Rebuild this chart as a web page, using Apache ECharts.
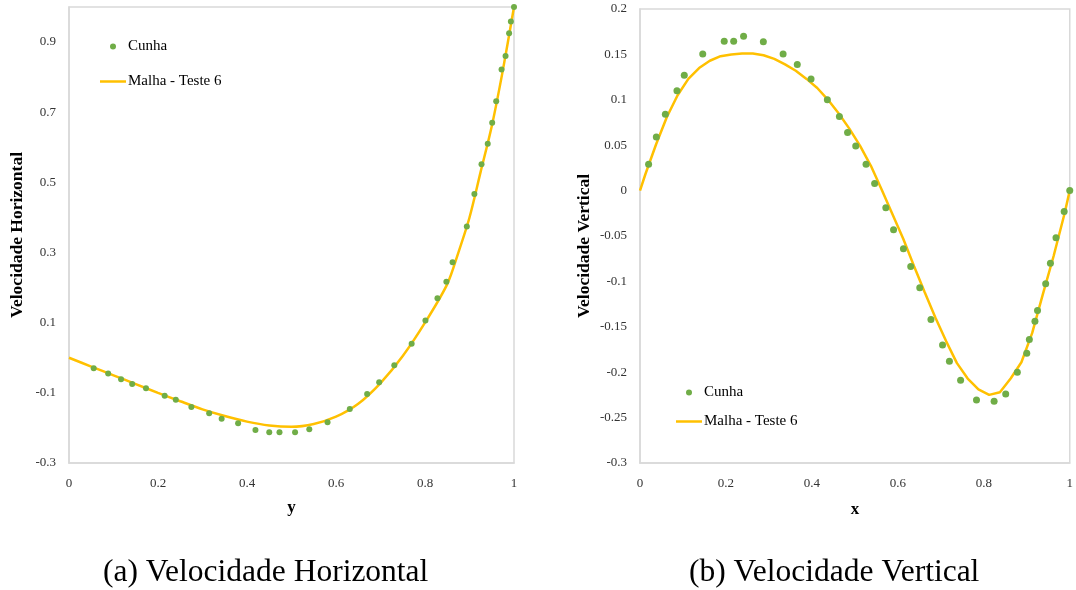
<!DOCTYPE html>
<html>
<head>
<meta charset="utf-8">
<script src="https://cdn.jsdelivr.net/npm/echarts@6/dist/echarts.min.js"></script>
<style>
html,body{margin:0;padding:0;background:#fff;}
#c{width:1076px;height:590px;}
</style>
</head>
<body>
<div id="c"></div>
<script>
// ---- (a) Velocidade Horizontal ----
const cunhaHX = [0.0555,0.088,0.117,0.142,0.173,0.215,0.240,0.275,0.315,0.343,0.380,0.419,0.450,0.473,0.508,0.540,0.581,0.631,0.670,0.697,0.731,0.770,0.801,0.828,0.848,0.862,0.894,0.911,0.927,0.941,0.951,0.960,0.972,0.981,0.989,0.993,1.0];
const cunhaHY = [-0.030,-0.045,-0.061,-0.075,-0.087,-0.108,-0.120,-0.140,-0.158,-0.174,-0.187,-0.206,-0.212,-0.212,-0.212,-0.204,-0.184,-0.146,-0.103,-0.070,-0.0215,0.040,0.106,0.170,0.217,0.272,0.374,0.467,0.552,0.610,0.670,0.731,0.822,0.860,0.925,0.959,1.0];
const malhaHX = [0,0.05,0.1,0.15,0.2,0.25,0.3,0.35,0.4,0.45,0.5,0.55,0.6,0.65,0.7,0.75,0.8,0.85,0.875,0.9,0.925,0.95,0.975,1.0];
const malhaHY = [0.000,-0.025,-0.050,-0.075,-0.100,-0.124,-0.147,-0.166,-0.182,-0.193,-0.197,-0.189,-0.168,-0.131,-0.072,0.005,0.100,0.210,0.300,0.400,0.530,0.660,0.820,1.0];

// ---- (b) Velocidade Vertical ----
const cunhaVX = [0.020,0.038,0.059,0.086,0.103,0.146,0.196,0.218,0.241,0.287,0.333,0.366,0.398,0.436,0.464,0.483,0.502,0.526,0.546,0.572,0.590,0.613,0.630,0.651,0.677,0.704,0.720,0.746,0.783,0.824,0.851,0.878,0.900,0.906,0.919,0.925,0.944,0.955,0.968,0.987,1.0];
const cunhaVY = [0.029,0.059,0.084,0.110,0.127,0.1505,0.1645,0.1645,0.170,0.164,0.1505,0.139,0.123,0.100,0.0815,0.064,0.049,0.029,0.0077,-0.019,-0.043,-0.064,-0.0837,-0.107,-0.142,-0.170,-0.188,-0.209,-0.2305,-0.232,-0.224,-0.200,-0.179,-0.164,-0.144,-0.132,-0.1025,-0.080,-0.0518,-0.023,0.0];
const malhaVX = [0,0.0125,0.0375,0.0625,0.0875,0.1125,0.1375,0.1625,0.1875,0.2125,0.2375,0.2625,0.2875,0.3125,0.3375,0.3625,0.3875,0.4125,0.4375,0.4625,0.4875,0.5125,0.5375,0.5625,0.5875,0.6125,0.6375,0.6625,0.6875,0.7125,0.7375,0.7625,0.7875,0.8125,0.8375,0.8625,0.8875,0.9125,0.9375,0.9625,0.9875,1.0];
const malhaVY = [0,0.018,0.051,0.081,0.105,0.123,0.135,0.143,0.148,0.150,0.151,0.151,0.149,0.145,0.139,0.132,0.123,0.113,0.100,0.085,0.068,0.049,0.027,0.001,-0.026,-0.053,-0.083,-0.112,-0.140,-0.166,-0.190,-0.207,-0.219,-0.225,-0.222,-0.207,-0.189,-0.157,-0.114,-0.072,-0.026,0];

const captionA = '(a) Velocidade Horizontal';
const captionB = '(b) Velocidade Vertical';
const seriesNames = ['Cunha', 'Malha - Teste 6'];

const zip = (xs, ys) => xs.map((x, i) => [x, ys[i]]);
const GREEN = '#70AD47', GOLD = '#FFC000', BORDER = '#D9D9D9';
const serif = 'Liberation Serif';

function xAxis(gi, name, gap) {
  return {
    type: 'value', gridIndex: gi, min: 0, max: 1, interval: 0.2,
    name: name, nameLocation: 'middle', nameGap: gap,
    nameTextStyle: {fontFamily: serif, fontWeight: 'bold', fontSize: 17, color: '#000'},
    axisLine: {show: true, onZero: false, lineStyle: {color: BORDER, width: 1.5}},
    axisTick: {show: false}, splitLine: {show: false},
    axisLabel: {fontFamily: serif, fontSize: 13, color: '#333', margin: 14}
  };
}
function yAxis(gi, name, gap, min, max, interval, pad) {
  return {
    type: 'value', gridIndex: gi, min: min, max: max, interval: interval,
    name: name, nameLocation: 'middle', nameGap: gap,
    nameTextStyle: {fontFamily: serif, fontWeight: 'bold', fontSize: 17.5, color: '#000', padding: pad},
    axisLine: {show: true, onZero: false, lineStyle: {color: BORDER, width: 1.5}},
    axisTick: {show: false}, splitLine: {show: false},
    axisLabel: {fontFamily: serif, fontSize: 13, color: '#333', margin: 13, showMaxLabel: gi === 1}
  };
}
function legend(left, top, gap) {
  return {
    orient: 'vertical', left: left, top: top, itemGap: gap,
    itemWidth: 26, itemHeight: 6, padding: 0,
    selectedMode: false,
    textStyle: {fontFamily: serif, fontSize: 15, color: '#000', padding: [0, 0, 0, -3]},
    data: [{name: seriesNames[0], icon: 'circle'},
           {name: seriesNames[1], icon: 'path://M0,0 L26,0 L26,2.5 L0,2.5 Z'}]
  };
}

const chart = echarts.init(document.getElementById('c'), null, {renderer: 'canvas'});
chart.setOption({
  animation: false,
  backgroundColor: '#fff',
  title: [
    {text: captionA, left: 103, top: 557, padding: 0,
     textStyle: {fontFamily: serif, fontSize: 31.5, fontWeight: 'normal', color: '#000'}},
    {text: captionB, left: 689, top: 557, padding: 0,
     textStyle: {fontFamily: serif, fontSize: 31.5, fontWeight: 'normal', color: '#000'}}
  ],
  grid: [
    {left: 69, top: 7, width: 445, height: 456, show: true, borderColor: BORDER, borderWidth: 1.5},
    {left: 640, top: 9, width: 435, height: 454, show: true, borderColor: BORDER, borderWidth: 1.5}
  ],
  legend: [legend(100, 39, 20), legend(676, 385, 14)],
  xAxis: [xAxis(0, 'y', 36), xAxis(1, 'x', 38)],
  yAxis: [yAxis(0, 'Velocidade Horizontal', 43, -0.3, 1.0, 0.2, [0, 0, 0, 0]),
          yAxis(1, 'Velocidade Vertical', 47, -0.3, 0.2, 0.05, [0, 20, 0, 0])],
  series: [
    {name: seriesNames[1], type: 'line', xAxisIndex: 0, yAxisIndex: 0, data: zip(malhaHX, malhaHY),
     symbol: 'none', smooth: 0.3, lineStyle: {color: GOLD, width: 2.5}, itemStyle: {color: GOLD}, z: 2},
    {name: seriesNames[0], type: 'scatter', xAxisIndex: 0, yAxisIndex: 0, data: zip(cunhaHX, cunhaHY),
     symbol: 'circle', symbolSize: 6, clip: false, itemStyle: {color: GREEN, opacity: 1}, z: 3},
    {name: seriesNames[1], type: 'line', xAxisIndex: 1, yAxisIndex: 1, data: zip(malhaVX, malhaVY),
     symbol: 'none', lineStyle: {color: GOLD, width: 2.5}, itemStyle: {color: GOLD}, z: 2},
    {name: seriesNames[0], type: 'scatter', xAxisIndex: 1, yAxisIndex: 1, data: zip(cunhaVX, cunhaVY),
     symbol: 'circle', symbolSize: 7, clip: false, itemStyle: {color: GREEN, opacity: 1}, z: 3}
  ]
});
</script>
</body>
</html>
